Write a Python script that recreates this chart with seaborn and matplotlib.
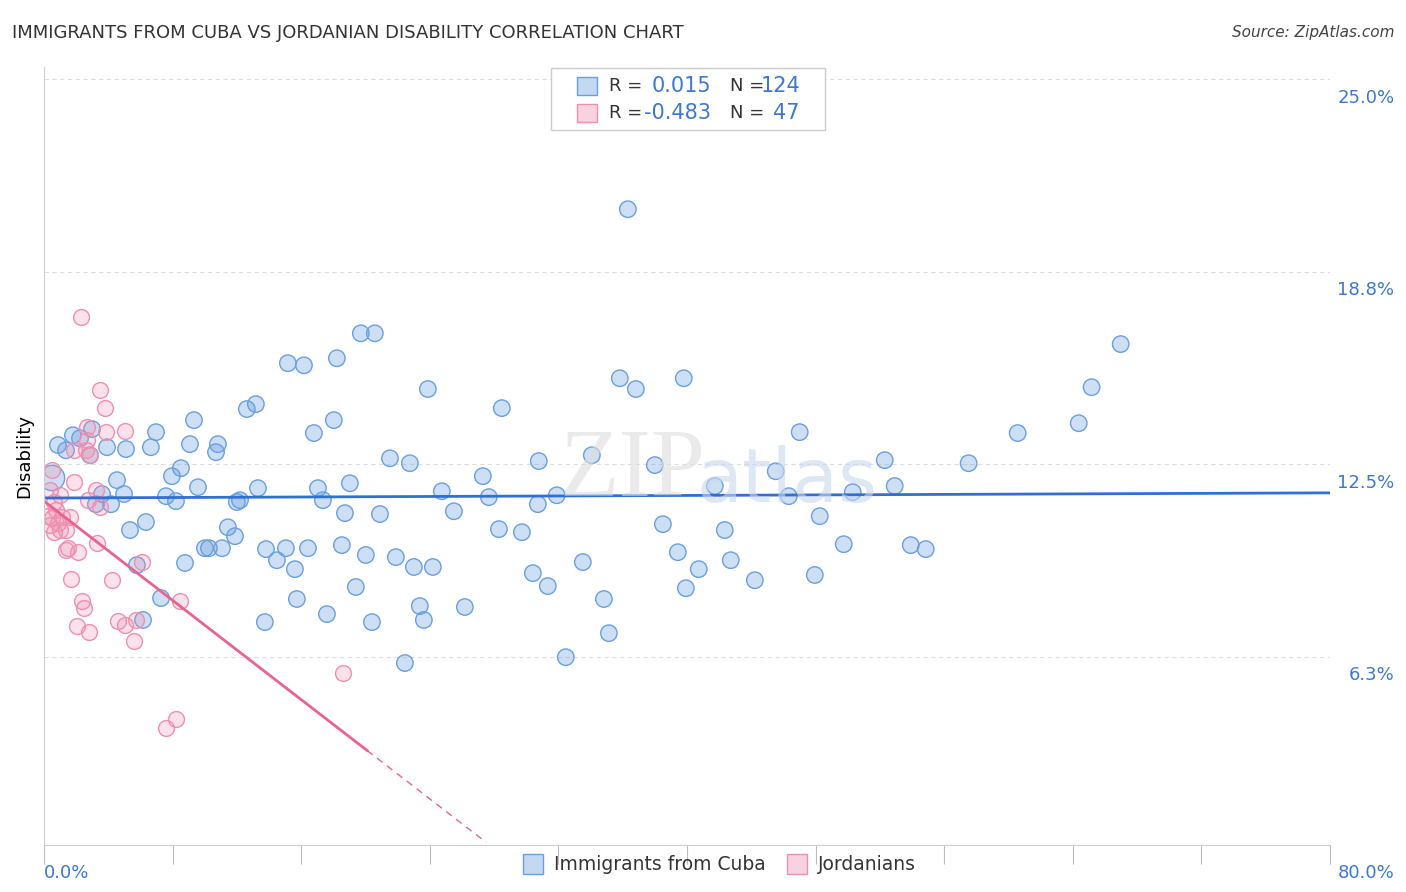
import numpy as np
import pandas as pd
import matplotlib
matplotlib.use("Agg")
import matplotlib.pyplot as plt
import seaborn as sns

blue_px = [(628,209),(1121,344),(1092,387),(361,333),(375,333),(337,358),(288,363),(304,365),(428,389),(620,378),(636,389),(684,378),(502,408),(256,404),(247,409),(194,420),(334,420),(314,433),(1079,423),(1018,433),(800,432),(156,432),(73,435),(92,429),(58,445),(66,450),(80,438),(107,447),(126,449),(151,447),(190,444),(218,444),(216,452),(90,455),(390,458),(410,463),(539,461),(592,455),(655,465),(885,460),(969,463),(776,471),(181,468),(172,476),(483,476),(117,480),(198,487),(258,488),(318,488),(350,483),(442,491),(715,486),(853,492),(895,486),(789,496),(489,497),(538,504),(557,495),(166,496),(124,494),(102,494),(96,504),(111,504),(176,501),(237,502),(240,500),(323,500),(345,513),(380,514),(454,511),(820,516),(663,524),(725,530),(499,529),(522,532),(130,530),(146,522),(228,527),(235,536),(205,548),(209,548),(222,548),(266,549),(286,548),(308,548),(342,545),(366,555),(396,557),(414,567),(433,567),(583,562),(678,552),(731,560),(844,544),(911,545),(926,549),(277,560),(295,569),(533,573),(699,569),(137,565),(185,563),(356,587),(548,586),(686,588),(755,580),(815,575),(161,598),(297,599),(327,614),(420,606),(465,607),(604,599),(424,620),(143,620),(265,622),(372,622),(609,633),(405,663),(566,657),(52,478)]
pink_px = [(81,317),(100,390),(105,408),(125,431),(106,432),(87,427),(87,440),(86,450),(74,450),(90,455),(52,470),(60,495),(74,482),(96,490),(88,500),(100,507),(50,490),(54,502),(56,510),(62,517),(70,517),(52,518),(58,523),(54,532),(66,530),(50,525),(68,548),(66,550),(78,552),(97,543),(142,562),(71,579),(112,580),(82,601),(84,608),(180,601),(77,626),(89,632),(118,621),(125,625),(136,620),(134,641),(343,673),(176,719),(166,728),(48,516),(60,530)]

cuba_x = [round((p[0]-44)/16.08, 2) for p in blue_px]
cuba_y = [round((849-p[1])/30.8, 2) for p in blue_px]
jord_x = [round((p[0]-44)/16.08, 2) for p in pink_px]
jord_y = [round((849-p[1])/30.8, 2) for p in pink_px]

# trend lines (slope, intercept)
cuba_line = (0.0021, 11.40)
jord_line = (-0.403, 11.3)

BLUE = "#6a9fe0"; BLUE_L = "#2f6fd6"; PINK = "#f08fb0"; PINK_L = "#e8648f"
TXT_B = "#3a78d4"

fig = plt.figure(figsize=(14.06, 8.92), dpi=100)
ax = fig.add_axes([44/1406, 1-845/892, (1330-44)/1406, (845-67)/892])
df_b = pd.DataFrame({"x": cuba_x, "y": cuba_y})
df_p = pd.DataFrame({"x": jord_x, "y": jord_y})
sizes_b = [140]*len(df_b); sizes_b[-1] = 330
sns.scatterplot(data=df_b, x="x", y="y", ax=ax, s=sizes_b, facecolor=BLUE+"55",
                edgecolor=BLUE, linewidth=1.0, legend=False)
sns.scatterplot(data=df_p, x="x", y="y", ax=ax, s=130, facecolor=PINK+"44",
                edgecolor=PINK, linewidth=1.0, legend=False)

xs = np.linspace(0, 80, 50)
ax.plot(xs, cuba_line[0]*xs + cuba_line[1], color=BLUE_L, lw=2)
x1 = np.linspace(0, 20.1, 20)
ax.plot(x1, jord_line[0]*x1 + jord_line[1], color=PINK_L, lw=2)
x2 = np.linspace(20.1, 27.5, 20)
ax.plot(x2, jord_line[0]*x2 + jord_line[1], color=PINK_L, lw=1, ls=(0, (5, 4)))

ax.set_xlim(0, 80)
ax.set_ylim(0.13, 25.4)
for yv in [6.25, 12.5, 18.75, 25.0]:
    ax.axhline(yv, color="#dddddd", lw=0.8, ls=(0, (4, 3)), zorder=0)
ax.set_yticks([])
for yv, lab in [(6.25, "6.3%"), (12.5, "12.5%"), (18.75, "18.8%"), (25.0, "25.0%")]:
    ax.text(1.05, yv - 0.6, lab, transform=ax.get_yaxis_transform(), ha="right",
            va="center", color=TXT_B, fontsize=13)
ax.set_xticks(np.arange(0, 81, 8))
ax.set_xticklabels([])
ax.tick_params(axis="x", length=14, color="#bbbbbb")
for s in ["top", "right"]:
    ax.spines[s].set_visible(False)
ax.spines["left"].set_color("#cccccc"); ax.spines["bottom"].set_color("#cccccc")
ax.set_xlabel(""); ax.set_ylabel("Disability", fontsize=13, labelpad=8)
ax.text(0, -0.025, "0.0%", transform=ax.transAxes, color=TXT_B, fontsize=13, va="top")
ax.text(1.05, -0.025, "80.0%", transform=ax.transAxes, color=TXT_B, fontsize=13, va="top", ha="right")

fig.text(12/1406, 1-33/892, "IMMIGRANTS FROM CUBA VS JORDANIAN DISABILITY CORRELATION CHART",
         fontsize=13, va="center", color="#333333")
fig.text(1394/1406, 1-33/892, "Source: ZipAtlas.com", fontsize=11, va="center",
         ha="right", style="italic", color="#444444")
fig.text(0.45, 0.47, "ZIP", fontsize=70, color="#dddddd", ha="center", va="center",
         family="Liberation Serif", alpha=0.6)
fig.text(0.56, 0.46, "atlas", fontsize=54, color="#c8d8ee", ha="center", va="center", alpha=0.6)

# top legend
lx, ly = 551/1406, 1-130/892
fig.patches.append(matplotlib.patches.Rectangle((lx, ly), 274/1406, 62/892,
                   transform=fig.transFigure, fc="white", ec="#cccccc", lw=1))
for i, (c, r, n) in enumerate([(BLUE, "0.015", "124"), (PINK, "-0.483", "47")]):
    yy = 1-(86+27*i)/892
    fig.patches.append(matplotlib.patches.Rectangle((577/1406, yy-9/892), 20/1406, 18/892,
                       transform=fig.transFigure, fc=c+"66", ec=c, lw=1))
    fig.text(609/1406, yy, "R =", fontsize=13, va="center", color="#333333")
    fig.text(711/1406, yy, r, fontsize=15, va="center", ha="right", color=TXT_B)
    fig.text(730/1406, yy, "N =", fontsize=13, va="center", color="#333333")
    fig.text(800/1406, yy, n, fontsize=15, va="center", ha="right", color=TXT_B)

# bottom legend
for x0, c, lab in [(523, BLUE, "Immigrants from Cuba"), (787, PINK, "Jordanians")]:
    fig.patches.append(matplotlib.patches.Rectangle((x0/1406, 1-874/892), 20/1406, 20/892,
                       transform=fig.transFigure, fc=c+"66", ec=c, lw=1))
    fig.text((x0+31)/1406, 1-864/892, lab, fontsize=13.5, va="center", color="#333333")

fig.savefig("out.png", dpi=100)
